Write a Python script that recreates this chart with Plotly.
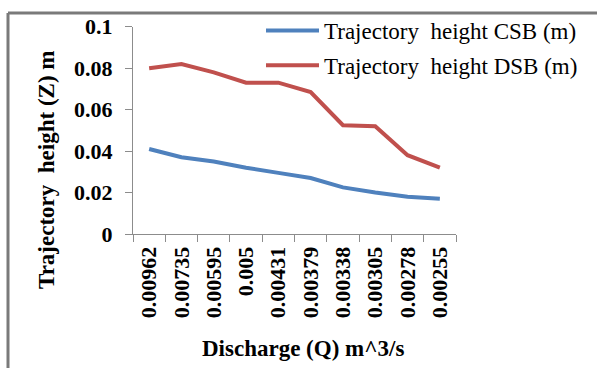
import plotly.graph_objects as go

discharge = ["0.00962", "0.00735", "0.00595", "0.005", "0.00431",
             "0.00379", "0.00338", "0.00305", "0.00278", "0.00255"]
height_csb = [0.041, 0.037, 0.035, 0.032, 0.0295, 0.027, 0.0225, 0.020, 0.018, 0.017]
height_dsb = [0.080, 0.082, 0.078, 0.073, 0.073, 0.0685, 0.0525, 0.052, 0.038, 0.032]
y_ticks = [0, 0.02, 0.04, 0.06, 0.08, 0.1]
y_ticklabels = ["0", "0.02", "0.04", "0.06", "0.08", "0.1"]

W, H = 597, 368
FONT = "Liberation Serif"

fig = go.Figure()
fig.add_trace(go.Scatter(x=discharge, y=height_csb, mode="lines",
                         name="Trajectory  height CSB (m)", legendgroup="a",
                         line=dict(color="#4f81bd", width=4)))
fig.add_trace(go.Scatter(x=discharge, y=height_dsb, mode="lines",
                         name="Trajectory  height DSB (m)", legendgroup="b",
                         line=dict(color="#c0504d", width=4)))

x0, x1 = 133, 456
ytop, ybot = 26.7, 234

fig.update_layout(
    width=W, height=H,
    margin=dict(l=0, r=0, t=0, b=0, autoexpand=False),
    paper_bgcolor="white", plot_bgcolor="white",
    font=dict(family=FONT, color="black"),
    showlegend=True,
    legend=dict(x=261 / W, y=1 - 9 / H, xanchor="left", yanchor="top",
                font=dict(family=FONT, size=23, color="black"),
                bgcolor="rgba(0,0,0,0)", itemwidth=53,
                tracegroupgap=2, traceorder="grouped"),
    xaxis=dict(domain=[x0 / W, x1 / W], type="category", automargin=False,
               range=[-0.5, len(discharge) - 0.5],
               showline=True, linecolor="#8c8c8c", linewidth=1,
               ticks="outside", ticklen=7, tickcolor="#8c8c8c",
               tickson="boundaries", tickangle=-90, ticklabelstandoff=3,
               tickfont=dict(family=FONT, size=22, weight="bold"),
               showgrid=False, zeroline=False),
    yaxis=dict(domain=[1 - ybot / H, 1 - ytop / H], range=[0, 0.1], automargin=False,
               tickvals=y_ticks, ticktext=y_ticklabels,
               showline=True, linecolor="#8c8c8c", linewidth=1,
               ticks="outside", ticklen=7, tickcolor="#8c8c8c",
               ticklabelstandoff=8,
               tickfont=dict(family=FONT, size=22, weight="bold"),
               showgrid=False, zeroline=False),
)

fig.add_annotation(text="Trajectory  height (Z) m", xref="paper", yref="paper",
                   x=47 / W, y=1 - 170 / H, textangle=-90, showarrow=False,
                   xanchor="center", yanchor="middle",
                   font=dict(family=FONT, size=23, weight="bold", color="black"))
fig.add_annotation(text="Discharge (Q) m^3/s", xref="paper", yref="paper",
                   x=303 / W, y=1 - 348 / H, showarrow=False,
                   xanchor="center", yanchor="middle",
                   font=dict(family=FONT, size=23, weight="bold", color="black"))

# outer frame: top and left edges (right/bottom fall outside the crop)
ty = 1 - 13 / H
fig.add_shape(type="line", xref="paper", yref="paper",
              x0=8 / W, x1=1.0, y0=ty, y1=ty,
              line=dict(color="#7a7a7a", width=3), layer="above")
fig.add_shape(type="line", xref="paper", yref="paper",
              x0=8 / W, x1=8 / W, y0=0.0, y1=ty,
              line=dict(color="#7a7a7a", width=3), layer="above")

fig.write_html("out.html")
